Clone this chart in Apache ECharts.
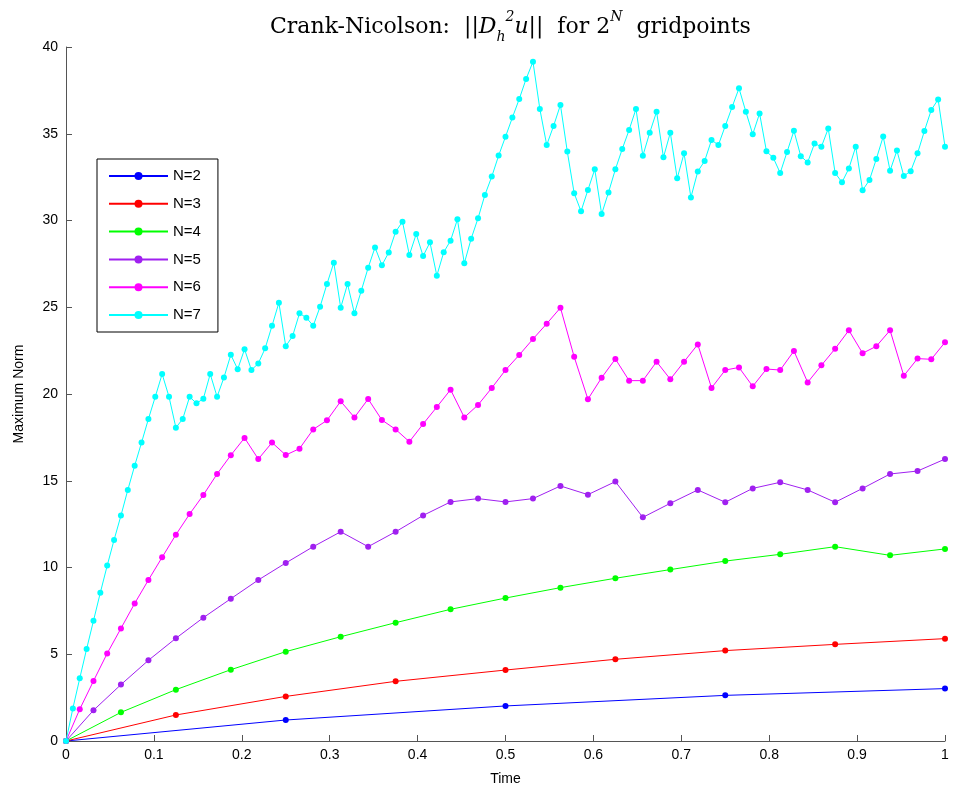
<!DOCTYPE html>
<html>
<head>
<meta charset="utf-8">
<script src="https://cdn.jsdelivr.net/npm/echarts@6/dist/echarts.min.js"></script>
<style>html,body{margin:0;padding:0;background:#fff}#c{width:956px;height:803px}</style>
</head>
<body>
<div id="c"></div>
<script>
// Series names and colours
const seriesNames = ['N=2','N=3','N=4','N=5','N=6','N=7'];
const seriesColors = ['#0000ff','#ff0000','#00ff00','#a020f0','#ff00ff','#00ffff'];
// number of time steps per unit time for each series
const stepsPerUnit = [4, 8, 16, 32, 64, 128];

const n2 = [0, 1.21, 2.02, 2.63, 3.02];
const n3 = [0, 1.50, 2.57, 3.44, 4.09, 4.71, 5.21, 5.57, 5.90];
const n4 = [0, 1.65, 2.96, 4.11, 5.15, 6.01, 6.82, 7.59, 8.24, 8.84, 9.38, 9.88, 10.37, 10.76, 11.20, 10.70, 11.07];
const n5 = [0, 1.77, 3.25, 4.65, 5.92, 7.11, 8.20, 9.28, 10.26, 11.20, 12.06, 11.20, 12.06, 13.00, 13.78, 13.97,
            13.78, 13.97, 14.70, 14.20, 14.95, 12.89, 13.70, 14.47, 13.76, 14.56, 14.91, 14.47, 13.76, 14.56, 15.39, 15.56, 16.25];
const n6 = [0, 1.83, 3.46, 5.05, 6.49, 7.93, 9.28, 10.59, 11.89, 13.08, 14.18, 15.39, 16.47, 17.47, 16.25, 17.20,
            16.48, 16.85, 17.96, 18.48, 19.58, 18.65, 19.71, 18.50, 17.96, 17.25, 18.27, 19.25, 20.25, 18.65, 19.37, 20.35,
            21.38, 22.25, 23.17, 24.05, 24.97, 22.14, 19.70, 20.94, 22.02, 20.77, 20.77, 21.86, 20.85, 21.86, 22.86, 20.35,
            21.38, 21.53, 20.44, 21.44, 21.38, 22.48, 20.67, 21.65, 22.61, 23.67, 22.35, 22.75, 23.67, 21.05, 22.04, 22.00, 22.98];
const n7 = [0, 1.88, 3.61, 5.30, 6.93, 8.55, 10.11, 11.59, 12.99, 14.47, 15.87, 17.20, 18.56, 19.84, 21.15, 19.84,
            18.06, 18.56, 19.84, 19.46, 19.73, 21.15, 19.84, 20.95, 22.26, 21.43, 22.58, 21.38, 21.76, 22.63, 23.93, 25.26,
            22.75, 23.34, 24.65, 24.40, 23.93, 25.03, 26.34, 27.57, 24.97, 26.34, 24.65, 25.95, 27.28, 28.45, 27.42, 28.16,
            29.35, 29.93, 28.01, 29.22, 27.95, 28.74, 26.82, 28.17, 28.84, 30.07, 27.53, 28.95, 30.13, 31.47, 32.53, 33.74,
            34.83, 35.93, 37.00, 38.16, 39.15, 36.43, 34.35, 35.45, 36.66, 33.97, 31.57, 30.53, 31.76, 32.95, 30.37, 31.62,
            32.95, 34.12, 35.22, 36.43, 33.73, 35.06, 36.27, 33.64, 35.06, 32.43, 33.87, 31.33, 32.83, 33.43, 34.64, 34.35,
            35.45, 36.54, 37.62, 36.27, 34.97, 36.17, 33.99, 33.61, 32.74, 33.95, 35.17, 33.71, 33.35, 34.44, 34.25, 35.30,
            32.74, 32.20, 33.00, 34.25, 31.74, 32.33, 33.55, 34.84, 32.87, 34.03, 32.57, 32.84, 33.87, 35.16, 36.37, 36.98, 34.25];
const seriesValues = [n2, n3, n4, n5, n6, n7];

const xTicks = {min: 0, max: 1, interval: 0.1};
const yTicks = {min: 0, max: 40, interval: 5};

const font = 'Liberation Sans, Arial, sans-serif';
const serif = 'DejaVu Serif, Liberation Serif, serif';

const series = seriesValues.map((vals, k) => ({
  name: seriesNames[k],
  type: 'line',
  data: vals.map((v, i) => [i / stepsPerUnit[k], v]),
  symbol: 'circle',
  symbolSize: 6,
  showSymbol: true,
  color: seriesColors[k],
  lineStyle: {width: 1, color: seriesColors[k]},
  itemStyle: {color: seriesColors[k]},
  emphasis: {disabled: true},
  animation: false
}));

const chart = echarts.init(document.getElementById('c'), null, {renderer: 'canvas'});
chart.setOption({
  backgroundColor: '#fff',
  animation: false,
  title: {
    left: 265, top: 5,
    text: '{n|Crank-Nicolson:  }{n|||}{i|D}{sub|h}{sup|2}{i|u}{n|||  for 2}{sup|N}{n|  gridpoints}',
    textStyle: {
      fontSize: 22, fontFamily: serif, fontWeight: 'normal', color: '#000',
      rich: {
        n: {fontSize: 22, fontFamily: serif, color: '#000', lineHeight: 34, verticalAlign: 'middle'},
        i: {fontSize: 22, fontFamily: serif, fontStyle: 'italic', color: '#000', lineHeight: 34},
        sup: {fontSize: 14, fontFamily: serif, fontStyle: 'italic', color: '#000', verticalAlign: 'top', lineHeight: 34},
        sub: {fontSize: 14, fontFamily: serif, fontStyle: 'italic', color: '#000', verticalAlign: 'bottom', lineHeight: 34}
      }
    }
  },
  grid: {left: 66, right: 11, top: 47, bottom: 62, containLabel: false, show: false},
  legend: {
    orient: 'vertical', left: 97, top: 159,
    padding: [9.5, 17, 9.5, 11],
    itemWidth: 59, itemHeight: 10, itemGap: 12.8,
    borderColor: '#000', borderWidth: 1, backgroundColor: '#fff',
    textStyle: {fontSize: 15, fontFamily: font, color: '#000'},
    data: seriesNames,
    selectedMode: false
  },
  xAxis: {
    type: 'value', min: xTicks.min, max: xTicks.max, interval: xTicks.interval,
    name: 'Time', nameLocation: 'middle', nameGap: 31,
    nameTextStyle: {fontSize: 14, fontFamily: font, color: '#000'},
    axisLine: {show: true, lineStyle: {color: '#555', width: 1}},
    axisTick: {show: true, inside: true, length: 6, lineStyle: {color: '#555'}},
    axisLabel: {fontSize: 14, fontFamily: font, color: '#000', margin: 7},
    splitLine: {show: false}
  },
  yAxis: {
    type: 'value', min: yTicks.min, max: yTicks.max, interval: yTicks.interval,
    name: 'Maximum Norm', nameLocation: 'middle', nameGap: 40,
    nameTextStyle: {fontSize: 14, fontFamily: font, color: '#000'},
    axisLine: {show: true, lineStyle: {color: '#555', width: 1}},
    axisTick: {show: true, inside: true, length: 6, lineStyle: {color: '#555'}},
    axisLabel: {fontSize: 14, fontFamily: font, color: '#000', margin: 8},
    splitLine: {show: false}
  },
  series: series
});
</script>
</body>
</html>
